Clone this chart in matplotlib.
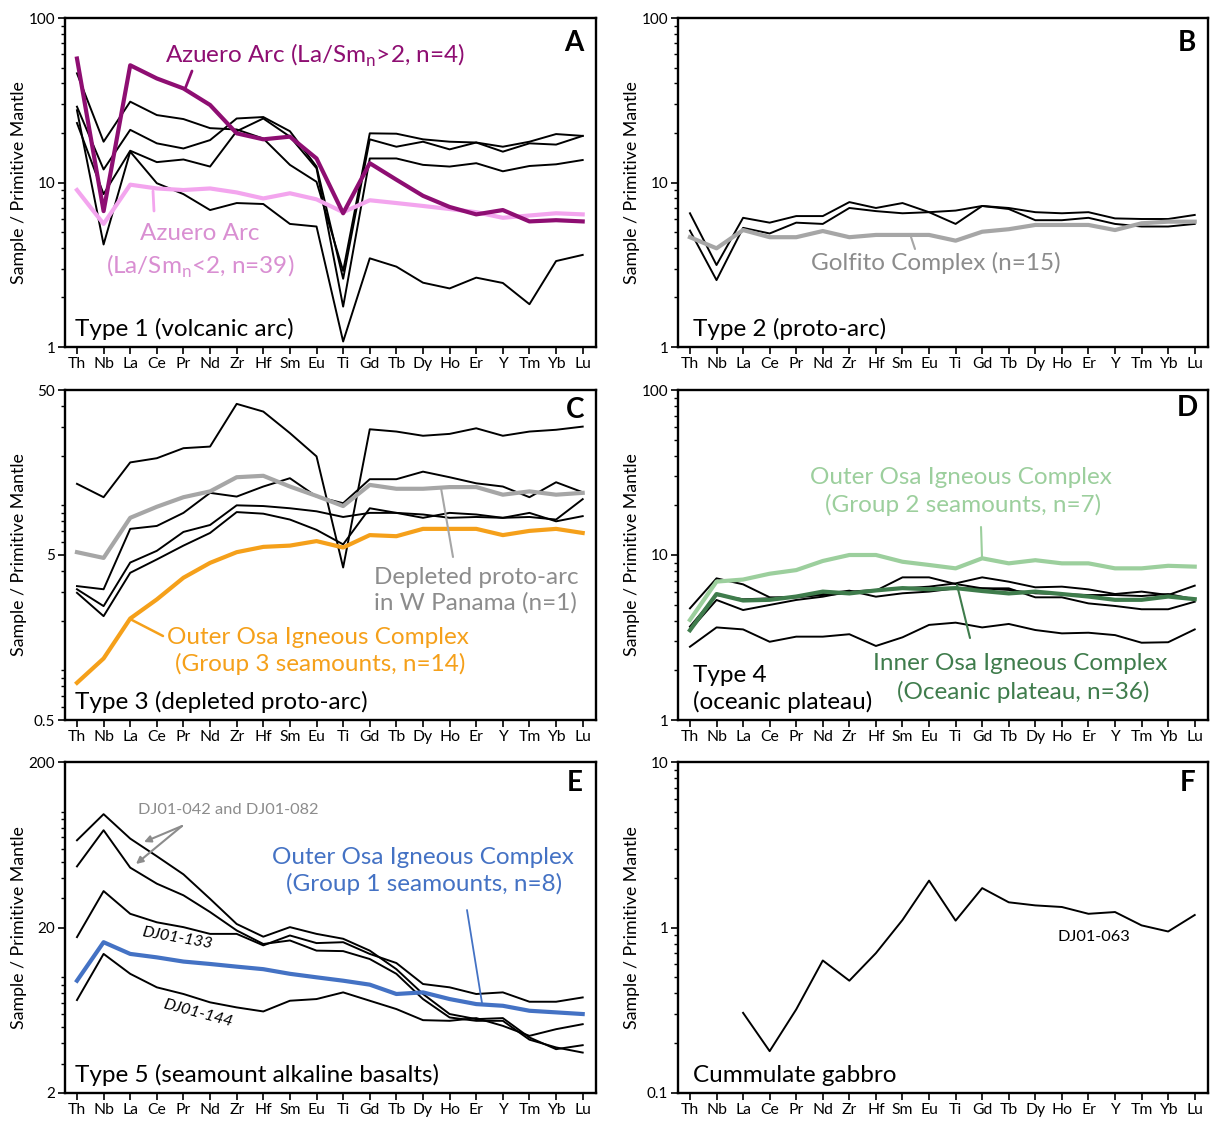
import numpy as np
import matplotlib
matplotlib.use('Agg')
import matplotlib.pyplot as plt
from matplotlib.ticker import FixedLocator, FixedFormatter, LogLocator, NullFormatter

plt.rcParams['font.family'] = ['Lato', 'DejaVu Sans']
plt.rcParams['mathtext.fontset'] = 'custom'
plt.rcParams['mathtext.rm'] = 'Lato'

W, H = 1211, 1122

elements = ['Th', 'Nb', 'La', 'Ce', 'Pr', 'Nd', 'Zr', 'Hf', 'Sm', 'Eu',
            'Ti', 'Gd', 'Tb', 'Dy', 'Ho', 'Er', 'Y', 'Tm', 'Yb', 'Lu']

# --- A: Type 1 (volcanic arc)
azuero_high = [56.7, 6.7, 51.6, 42.9, 37.3, 29.6, 19.9, 18.3, 19.0, 14.0,
               6.5, 13.1, 10.4, 8.3, 7.1, 6.4, 6.8, 5.8, 5.9, 5.8]
azuero_low = [9.0, 5.6, 9.7, 9.2, 9.0, 9.2, 8.7, 8.0, 8.6, 7.9,
              6.6, 7.8, 7.5, 7.2, 6.9, 6.6, 6.1, 6.3, 6.5, 6.4]
type1_a = [46.1, 17.7, 31.0, 25.7, 24.3, 21.4, 21.0, 18.5, 12.8, 10.1,
           2.9, 19.9, 19.8, 18.3, 17.7, 17.5, 16.5, 17.7, 19.7, 19.2]
type1_b = [28.9, 12.0, 20.9, 17.3, 16.1, 18.1, 24.5, 25.0, 20.5, 12.5,
           2.6, 18.3, 16.5, 17.7, 15.9, 17.5, 15.4, 17.3, 17.0, 19.2]
type1_c = [23.0, 8.5, 15.6, 13.3, 13.8, 12.5, 20.5, 24.5, 19.0, 12.2,
           1.76, 14.0, 14.0, 12.8, 12.5, 13.1, 11.7, 12.6, 12.9, 13.7]
type1_d = [27.5, 4.2, 15.4, 9.9, 8.5, 6.8, 7.5, 7.4, 5.6, 5.4,
           1.08, 3.46, 3.08, 2.46, 2.27, 2.64, 2.45, 1.82, 3.33, 3.63]

# --- B: Type 2 (proto-arc)
golfito = [4.65, 3.98, 5.14, 4.65, 4.65, 5.07, 4.65, 4.8, 4.8, 4.8,
           4.43, 5.02, 5.2, 5.52, 5.52, 5.52, 5.14, 5.65, 5.78, 5.78]
type2_a = [6.5, 3.15, 6.1, 5.7, 6.25, 6.25, 7.6, 7.0, 7.5, 6.6,
           5.6, 7.2, 6.9, 5.9, 5.9, 6.1, 5.6, 5.4, 5.4, 5.6]
type2_b = [5.1, 2.55, 5.3, 4.9, 5.7, 5.6, 7.0, 6.7, 6.5, 6.6,
           6.75, 7.2, 7.0, 6.6, 6.5, 6.6, 6.05, 6.0, 6.0, 6.35]

# --- C: Type 3 (depleted proto-arc)
w_panama = [5.2, 4.8, 8.4, 9.8, 11.2, 12.15, 14.8, 15.1, 13.0, 11.4,
            9.9, 13.3, 12.6, 12.6, 12.9, 12.9, 11.6, 12.15, 11.6, 11.9]
osa_group3 = [0.84, 1.18, 2.06, 2.69, 3.64, 4.48, 5.2, 5.6, 5.7, 6.07,
              5.55, 6.6, 6.5, 7.2, 7.2, 7.2, 6.6, 7.0, 7.2, 6.8]
type3_a = [13.5, 11.2, 18.2, 19.3, 22.2, 22.7, 41.2, 37.0, 27.4, 19.8,
           4.2, 28.9, 28.0, 26.4, 27.1, 29.3, 26.4, 28.0, 28.7, 30.0]
type3_b = [3.24, 3.1, 7.2, 7.5, 9.0, 11.9, 11.3, 13.0, 14.6, 11.3,
           10.3, 14.4, 14.4, 16.0, 14.8, 13.6, 13.0, 11.2, 13.8, 12.0]
type3_c = [3.1, 2.45, 4.5, 5.3, 6.9, 7.6, 10.0, 9.9, 9.6, 9.2,
           8.5, 9.0, 9.0, 8.8, 8.4, 8.5, 8.4, 8.5, 8.2, 10.9]
type3_d = [2.95, 2.13, 3.9, 4.7, 5.7, 6.8, 9.1, 8.9, 8.2, 7.1,
           5.8, 9.6, 9.0, 8.4, 9.0, 8.8, 8.4, 9.0, 8.0, 8.6]

# --- D: Type 4 (oceanic plateau)
osa_group2 = [4.04, 6.9, 7.1, 7.7, 8.1, 9.2, 10.0, 10.0, 9.1, 8.7,
              8.3, 9.55, 8.9, 9.3, 8.9, 8.9, 8.3, 8.3, 8.6, 8.5]
inner_osa = [3.5, 5.8, 5.3, 5.35, 5.6, 6.0, 5.85, 6.1, 6.3, 6.2,
             6.3, 6.05, 5.85, 6.0, 5.8, 5.6, 5.35, 5.35, 5.6, 5.4]
type4_a = [4.75, 7.22, 6.64, 5.54, 5.54, 5.72, 5.86, 6.08, 7.32, 7.32,
           6.67, 6.28, 6.28, 5.54, 5.54, 5.09, 4.91, 4.69, 4.69, 5.21]
type4_b = [3.51, 5.34, 4.64, 4.98, 5.34, 5.59, 6.0, 6.14, 6.28, 6.43,
           6.73, 7.32, 6.89, 6.37, 6.43, 6.19, 5.8, 6.0, 5.72, 6.52]
type4_c = [3.68, 5.72, 5.39, 5.46, 5.59, 5.8, 6.08, 5.59, 5.86, 6.0,
           6.28, 6.28, 6.14, 5.86, 5.8, 5.72, 5.72, 5.64, 5.8, 5.39]
type4_d = [2.78, 3.64, 3.54, 2.98, 3.2, 3.2, 3.31, 2.81, 3.17, 3.77,
           3.89, 3.64, 3.82, 3.51, 3.35, 3.38, 3.27, 2.94, 2.96, 3.54]

# --- E: Type 5 (seamount alkaline basalts)
osa_group1 = [9.54, 16.3, 13.85, 13.2, 12.45, 12.04, 11.6, 11.2, 10.5, 10.0,
              9.54, 9.03, 7.93, 8.11, 7.39, 6.89, 6.73, 6.28, 6.14, 6.0]
dj01_042 = [67.3, 96.8, 68.9, 53.9, 41.9, 29.8, 21.0, 17.6, 20.1, 18.3,
            17.1, 14.5, 11.2, 7.93, 6.0, 5.59, 5.67, 4.33, 3.68, 3.89]
dj01_082 = [46.8, 77.4, 46.0, 36.8, 31.3, 24.8, 19.2, 15.9, 16.7, 14.5,
            14.4, 12.9, 10.5, 7.39, 5.72, 5.46, 5.46, 4.2, 3.77, 3.51]
dj01_133 = [17.5, 33.2, 24.2, 21.5, 20.1, 18.3, 18.3, 15.6, 17.9, 16.1,
            16.3, 13.85, 12.2, 9.11, 8.7, 7.93, 8.11, 7.12, 7.12, 7.56]
dj01_144 = [7.29, 13.85, 10.5, 8.7, 7.93, 7.06, 6.58, 6.22, 7.22, 7.39,
            8.11, 7.22, 6.43, 5.51, 5.46, 5.67, 5.09, 4.43, 4.86, 5.21]

# --- F: cumulate gabbro (no Th, Nb)
dj01_063 = [np.nan, np.nan, 0.305, 0.179, 0.32, 0.632, 0.477, 0.70, 1.11, 1.92,
            1.10, 1.73, 1.42, 1.36, 1.33, 1.21, 1.24, 1.03, 0.946, 1.19]

PURPLE = '#8E0E72'
PINK = '#F3A5EE'
PINK_TXT = '#D98FD2'
GREY = '#A6A6A6'
GREY_TXT = '#8C8C8C'
ORANGE = '#F5A01A'
LGREEN = '#9CCF9D'
DGREEN = '#3F7C4C'
BLUE = '#4472C4'

THIN = 1.4
THICK = 3.0
BIG = 17.5
SMALL = 11.8
LETTER = 20

fig = plt.figure(figsize=(W / 100, H / 100), dpi=100)


def add_panel(left, top, right, bottom):
    return fig.add_axes([left / W, 1 - bottom / H, (right - left) / W, (bottom - top) / H])


def style(ax, ylo, yhi, majors, labels):
    ax.set_yscale('log')
    ax.set_ylim(ylo, yhi)
    ax.set_xlim(-0.45, 19.5)
    ax.set_xticks(range(len(elements)))
    ax.set_xticklabels(elements)
    ax.yaxis.set_major_locator(FixedLocator(majors))
    ax.yaxis.set_major_formatter(FixedFormatter(labels))
    ax.yaxis.set_minor_locator(LogLocator(base=10, subs=np.arange(1, 10)))
    ax.yaxis.set_minor_formatter(NullFormatter())
    ax.tick_params(axis='both', which='major', direction='out', length=5, width=1.2, pad=2)
    ax.tick_params(axis='x', labelsize=11.3)
    ax.tick_params(axis='y', labelsize=11)
    ax.tick_params(axis='y', which='minor', direction='out', length=3, width=1.0)
    for s in ax.spines.values():
        s.set_linewidth(1.7)
    ax.set_ylabel('Sample / Primitive Mantle', fontsize=12.8)
    ax.yaxis.set_label_coords(-0.072, 0.5)


def ftext(x, y, s, **kw):
    kw.setdefault('ha', 'center')
    kw.setdefault('va', 'center')
    fig.text(x / W, 1 - y / H, s, **kw)


def pix(ax, x, y):
    return tuple(ax.transData.inverted().transform((x, H - y)))


def leader(ax, p0, p1, color, lw=1.2):
    a, b = pix(ax, *p0), pix(ax, *p1)
    ax.annotate('', xy=b, xytext=a, arrowprops=dict(arrowstyle='-', color=color, lw=lw,
                                                     shrinkA=0, shrinkB=0))


x = np.arange(len(elements))

# ---------------- A
axA = add_panel(65, 18, 596, 347)
style(axA, 1, 100, [1, 10, 100], ['1', '10', '100'])
for s in [type1_a, type1_b, type1_c, type1_d]:
    axA.plot(x, s, color='black', lw=THIN)
axA.plot(x, azuero_low, color=PINK, lw=THICK)
axA.plot(x, azuero_high, color=PURPLE, lw=THICK)
ftext(315, 55, r'Azuero Arc (La/Sm$_\mathregular{n}$>2, n=4)', color=PURPLE, fontsize=BIG)
ftext(200, 233, 'Azuero Arc', color=PINK_TXT, fontsize=BIG)
ftext(200, 266, r'(La/Sm$_\mathregular{n}$<2, n=39)', color=PINK_TXT, fontsize=BIG)
leader(axA, (192, 71), (185, 89), PURPLE, 2)
leader(axA, (153, 191), (154, 211), PINK, 2)
ftext(75, 329, 'Type 1 (volcanic arc)', ha='left', fontsize=BIG)
ftext(574, 43, 'A', fontsize=LETTER, fontweight='bold')

# ---------------- B
axB = add_panel(678, 18, 1208, 347)
style(axB, 1, 100, [1, 10, 100], ['1', '10', '100'])
for s in [type2_a, type2_b]:
    axB.plot(x, s, color='black', lw=THIN)
axB.plot(x, golfito, color=GREY, lw=THICK)
ftext(936, 263, 'Golfito Complex (n=15)', color=GREY_TXT, fontsize=BIG)
leader(axB, (911, 237), (915, 249), GREY, 1.5)
ftext(693, 329, 'Type 2 (proto-arc)', ha='left', fontsize=BIG)
ftext(1187, 43, 'B', fontsize=LETTER, fontweight='bold')

# ---------------- C
axC = add_panel(65, 390, 596, 720)
style(axC, 0.5, 50, [0.5, 5, 50], ['0.5', '5', '50'])
for s in [type3_a, type3_b, type3_c, type3_d]:
    axC.plot(x, s, color='black', lw=THIN)
axC.plot(x, w_panama, color=GREY, lw=THICK)
axC.plot(x, osa_group3, color=ORANGE, lw=THICK)
ftext(374, 577, 'Depleted proto-arc', ha='left', color=GREY_TXT, fontsize=BIG)
ftext(374, 603, 'in W Panama (n=1)', ha='left', color=GREY_TXT, fontsize=BIG)
leader(axC, (441, 488), (453, 557), GREY, 1.5)
ftext(318, 637, 'Outer Osa Igneous Complex', color=ORANGE, fontsize=BIG)
ftext(320, 664, '(Group 3 seamounts, n=14)', color=ORANGE, fontsize=BIG)
leader(axC, (130, 619), (163, 636), ORANGE, 1.8)
ftext(75, 702, 'Type 3 (depleted proto-arc)', ha='left', fontsize=BIG)
ftext(575, 410, 'C', fontsize=LETTER, fontweight='bold')

# ---------------- D
axD = add_panel(678, 390, 1208, 720)
style(axD, 1, 100, [1, 10, 100], ['1', '10', '100'])
for s in [type4_a, type4_b, type4_c, type4_d]:
    axD.plot(x, s, color='black', lw=THIN)
axD.plot(x, inner_osa, color=DGREEN, lw=THICK)
axD.plot(x, osa_group2, color=LGREEN, lw=THICK)
ftext(961, 478, 'Outer Osa Igneous Complex', color=LGREEN, fontsize=BIG)
ftext(963, 505, '(Group 2 seamounts, n=7)', color=LGREEN, fontsize=BIG)
leader(axD, (981, 527), (982, 557), LGREEN, 1.5)
ftext(1020, 663, 'Inner Osa Igneous Complex', color=DGREEN, fontsize=BIG)
ftext(1023, 692, '(Oceanic plateau, n=36)', color=DGREEN, fontsize=BIG)
leader(axD, (957, 585), (970, 638), DGREEN, 1.5)
ftext(693, 675, 'Type 4', ha='left', fontsize=BIG)
ftext(693, 702, '(oceanic plateau)', ha='left', fontsize=BIG)
ftext(1187, 408, 'D', fontsize=LETTER, fontweight='bold')

# ---------------- E
axE = add_panel(65, 762, 596, 1093)
style(axE, 2, 200, [2, 20, 200], ['2', '20', '200'])
for s in [dj01_042, dj01_082, dj01_133, dj01_144]:
    axE.plot(x, s, color='black', lw=THIN)
axE.plot(x, osa_group1, color=BLUE, lw=THICK)
ftext(228, 810, 'DJ01-042 and DJ01-082', color=GREY_TXT, fontsize=SMALL)
for head in [(144, 842), (136, 864)]:
    axE.annotate('', xy=pix(axE, *head), xytext=pix(axE, 182, 826),
                 arrowprops=dict(arrowstyle='-|>', color=GREY_TXT, lw=1.5,
                                 mutation_scale=10, shrinkA=0, shrinkB=0))
ftext(423, 857, 'Outer Osa Igneous Complex', color=BLUE, fontsize=BIG)
ftext(424, 884, '(Group 1 seamounts, n=8)', color=BLUE, fontsize=BIG)
leader(axE, (467, 910), (482, 1003), BLUE, 1.3)
ftext(177, 938, 'DJ01-133', fontsize=SMALL, style='italic', rotation=-10)
ftext(198, 1013, 'DJ01-144', fontsize=SMALL, style='italic', rotation=-15)
ftext(75, 1075, 'Type 5 (seamount alkaline basalts)', ha='left', fontsize=BIG)
ftext(575, 783, 'E', fontsize=LETTER, fontweight='bold')

# ---------------- F
axF = add_panel(678, 762, 1208, 1093)
style(axF, 0.1, 10, [0.1, 1, 10], ['0.1', '1', '10'])
axF.plot(x, dj01_063, color='black', lw=THIN)
ftext(1094, 937, 'DJ01-063', fontsize=SMALL)
ftext(693, 1076, 'Cummulate gabbro', ha='left', fontsize=BIG)
ftext(1188, 783, 'F', fontsize=LETTER, fontweight='bold')

fig.savefig('out.png', dpi=100, facecolor='white')
